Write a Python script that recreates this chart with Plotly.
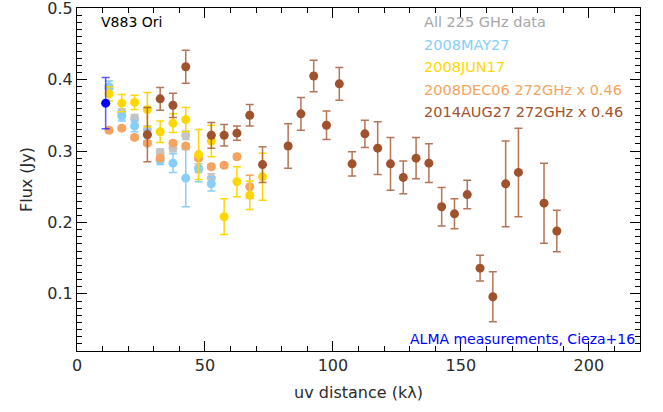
import plotly.graph_objects as go

# uv-distance bin centres (klambda)
uv_225 = [12.5, 17.5, 22.5, 27.5, 32.5, 37.5, 42.5, 47.5, 52.5]
flux_all225 = [0.388, 0.354, 0.346, 0.330, 0.298, 0.304, 0.322, 0.276, 0.262]
err_all225 = [0.005, 0.005, 0.005, 0.005, 0.005, 0.005, 0.006, 0.006, 0.006]

flux_may27 = [0.390, 0.349, 0.335, 0.322, 0.287, 0.283, 0.262, 0.275, 0.254]
err_may27 = [0.008, 0.007, 0.008, 0.008, 0.006, 0.013, 0.040, 0.018, 0.010]

uv_jun17 = [12.5, 17.5, 22.5, 27.5, 32.5, 37.5, 42.5, 47.5, 52.5, 57.5, 62.5, 67.5, 72.5]
flux_jun17 = [0.380, 0.367, 0.368, 0.358, 0.327, 0.339, 0.344, 0.295, 0.314, 0.208, 0.257, 0.238, 0.264]
err_jun17 = [0.010, 0.012, 0.010, 0.024, 0.015, 0.013, 0.017, 0.035, 0.022, 0.025, 0.021, 0.020, 0.033]

uv_dec06 = [12.5, 17.5, 22.5, 27.5, 32.5, 37.5, 42.5, 47.5, 52.5, 57.5, 62.5, 67.5]
flux_dec06 = [0.329, 0.332, 0.319, 0.311, 0.290, 0.311, 0.307, 0.290, 0.278, 0.280, 0.292, 0.250]
err_dec06 = [0.003, 0.003, 0.003, 0.003, 0.003, 0.003, 0.003, 0.003, 0.003, 0.003, 0.003, 0.016]

uv_aug27 = [27.5, 32.5, 37.5, 42.5, 52.5, 57.5, 62.5, 67.5, 72.5, 82.5, 87.5, 92.5, 97.5,
            102.5, 107.5, 112.5, 117.5, 122.5, 127.5, 132.5, 137.5, 142.5, 147.5, 152.5,
            157.5, 162.5, 167.5, 172.5, 182.5, 187.5]
flux_aug27 = [0.323, 0.373, 0.364, 0.418, 0.322, 0.322, 0.325, 0.350, 0.281, 0.307, 0.352, 0.405, 0.336,
              0.394, 0.282, 0.324, 0.304, 0.282, 0.263, 0.290, 0.283, 0.222, 0.212, 0.239,
              0.136, 0.096, 0.254, 0.270, 0.227, 0.188]
err_aug27 = [0.038, 0.016, 0.017, 0.023, 0.018, 0.015, 0.010, 0.015, 0.025, 0.031, 0.023, 0.022, 0.020,
             0.023, 0.017, 0.019, 0.037, 0.037, 0.023, 0.029, 0.027, 0.027, 0.021, 0.020,
             0.018, 0.035, 0.060, 0.062, 0.056, 0.029]

uv_alma = [11.2]
flux_alma = [0.367]
err_alma = [0.036]

FONT = "DejaVu Sans"
W, H = 663, 412
L, R, T, B = 77, 23, 8, 61


def _px(x, y):
    # pixel position -> paper coordinates
    return (x - L) / (W - L - R), 1 - (y - T) / (H - T - B)


def _series(x, y, err, color, bar_color, name):
    return go.Scatter(
        x=x,
        y=y,
        mode="markers",
        name=name,
        marker={"color": color, "size": 9},
        error_y={"type": "data", "array": err, "color": bar_color, "thickness": 1.5, "width": 4},
        showlegend=False,
        hoverinfo="skip",
    )


traces = [
    _series(uv_225, flux_all225, err_all225, "#c4c4c4", "#c4c4c4", "All 225 GHz data"),
    _series(uv_225, flux_may27, err_may27, "#87cefa", "#87cefa", "2008MAY27"),
    _series(uv_dec06, flux_dec06, err_dec06, "#f4a460", "#f4a460", "2008DEC06"),
    _series(uv_jun17, flux_jun17, err_jun17, "#ffd700", "#ffd700", "2008JUN17"),
    _series(uv_aug27, flux_aug27, err_aug27, "#a0522d", "rgba(160,82,45,0.8)", "2014AUG27"),
    _series(uv_alma, flux_alma, err_alma, "#0000ff", "rgba(0,0,255,0.65)", "ALMA"),
]

fig = go.Figure(data=traces)

legend_rows = [
    ("All 225 GHz data", "#a6a6a6"),
    ("2008MAY27", "#87cefa"),
    ("2008JUN17", "#ffd700"),
    ("2008DEC06 272GHz x 0.46", "#f4a460"),
    ("2014AUG27 272GHz x 0.46", "#a0522d"),
]
for i, (text, color) in enumerate(legend_rows):
    ax, ay = _px(422, 22 + i * 22.5)
    fig.add_annotation(
        x=ax, y=ay, xref="paper", yref="paper", text=text,
        showarrow=False, xanchor="left", yanchor="middle",
        font={"family": FONT, "size": 14.5, "color": color},
    )

ax, ay = _px(99, 22)
fig.add_annotation(
    x=ax, y=ay, xref="paper", yref="paper", text="V883 Ori",
    showarrow=False, xanchor="left", yanchor="middle",
    font={"family": FONT, "size": 14, "color": "#000000"},
)
ax, ay = _px(637, 339)
fig.add_annotation(
    x=ax, y=ay, xref="paper", yref="paper", text="ALMA measurements, Cieza+16",
    showarrow=False, xanchor="right", yanchor="middle",
    font={"family": FONT, "size": 14, "color": "#0000ff"},
)

axis_common = {
    "showgrid": False,
    "zeroline": False,
    "showline": True,
    "linecolor": "#000000",
    "linewidth": 1.2,
    "mirror": "ticks",
    "ticks": "inside",
    "ticklen": 10,
    "tickwidth": 1,
    "tickcolor": "#000000",
    "automargin": False,
    "ticklabeloverflow": "allow",
    "tickfont": {"family": FONT, "size": 16, "color": "#2a2a2a"},
}

fig.update_layout(
    width=W,
    height=H,
    margin={"l": L, "r": R, "t": T, "b": B, "autoexpand": False},
    paper_bgcolor="white",
    plot_bgcolor="white",
    font={"family": FONT, "color": "#2a2a2a"},
    xaxis={
        **axis_common,
        "range": [0, 220],
        "dtick": 50,
        "tick0": 0,
        "minor": {"dtick": 10, "ticks": "inside", "ticklen": 5, "tickcolor": "#000000"},
        "title": {"text": "uv distance (kλ)", "font": {"family": FONT, "size": 16}, "standoff": 12},
    },
    yaxis={
        **axis_common,
        "range": [0.02, 0.5002],
        "tickvals": [0.1, 0.2, 0.3, 0.4, 0.5],
        "ticktext": ["0.1", "0.2", "0.3", "0.4", "0.5"],
        "minor": {"tickvals": [v / 100 for v in range(2, 50)], "ticks": "inside", "ticklen": 5, "tickcolor": "#000000"},
        "title": {"text": "Flux (Jy)", "font": {"family": FONT, "size": 16}, "standoff": 10},
    },
)

# the page body has a default 8px margin; drop it so the figure sits at the window corner
fig.write_html(
    "out.html",
    config={"displayModeBar": False},
    post_script="document.body.style.margin='0';",
)
